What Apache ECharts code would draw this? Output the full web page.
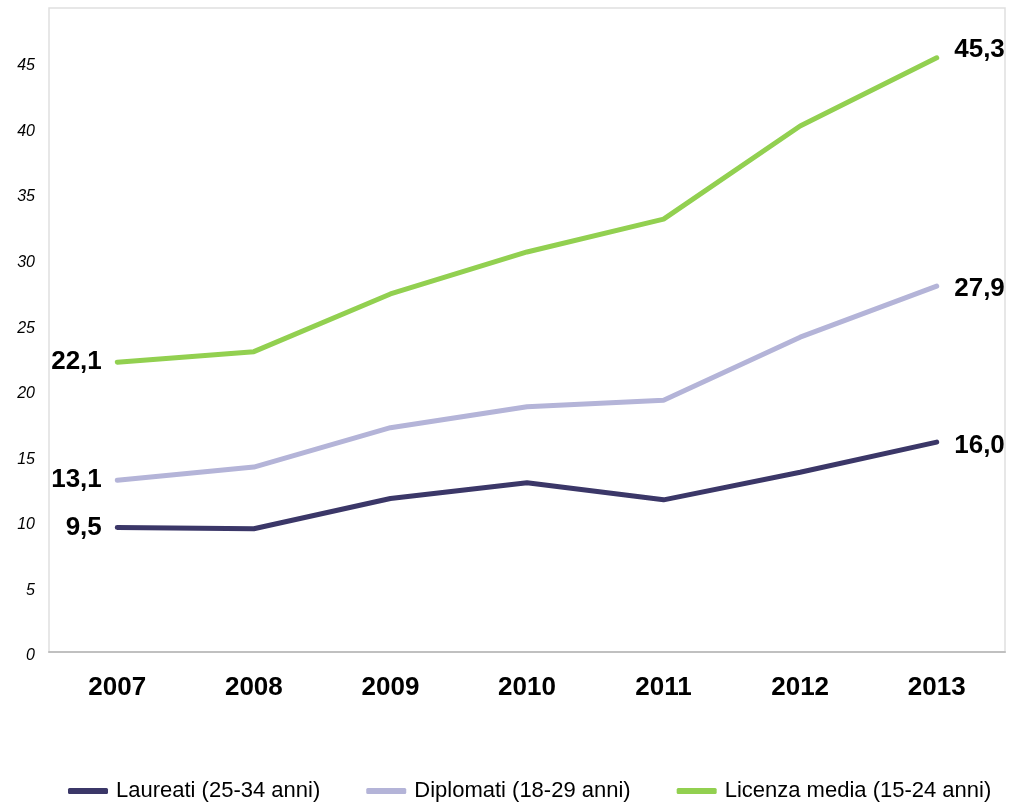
<!DOCTYPE html>
<html>
<head>
<meta charset="utf-8">
<script src="https://cdn.jsdelivr.net/npm/echarts@6/dist/echarts.min.js"></script>
<style>
  html, body { margin: 0; padding: 0; background: #fff; }
  #chart { width: 1014px; height: 806px; }
</style>
</head>
<body>
<div id="chart"></div>
<script>
var years = ['2007', '2008', '2009', '2010', '2011', '2012', '2013']
var laureati = [9.5, 9.4, 11.7, 12.9, 11.6, 13.7, 16.0]
var diplomati = [13.1, 14.1, 17.1, 18.7, 19.2, 24.0, 27.9]
var licenza = [22.1, 22.9, 27.3, 30.5, 33.0, 40.1, 45.3]
var names = ['Laureati (25-34 anni)', 'Diplomati (18-29 anni)', 'Licenza media (15-24 anni)']
var colors = ['#3b3768', '#b4b4d8', '#92d050']

var font = 'Liberation Sans, Arial, sans-serif'

// etichette solo sul primo e ultimo punto
var endLabels = function (arr, lastOffset) {
  return arr.map(function (v, i) {
    if (i === 0) {
      return { value: v, label: { show: true, position: 'left', distance: 15 } }
    }
    if (i === arr.length - 1) {
      return { value: v, label: { show: true, position: 'right', distance: 17, offset: lastOffset } }
    }
    return v
  })
}

var mkSeries = function (name, arr, color, lastOffset) {
  return {
    name: name,
    type: 'line',
    data: endLabels(arr, lastOffset),
    symbol: 'circle',
    symbolSize: 1,
    showSymbol: true,
    lineStyle: { color: color, width: 5, cap: 'round' },
    itemStyle: { color: color },
    label: {
      show: false,
      color: '#000',
      fontFamily: font,
      fontWeight: 'bold',
      fontSize: 26,
      formatter: function (p) { return p.value.toFixed(1).replace('.', ',') }
    },
    emphasis: { disabled: true }
  }
}

var Chart = echarts.init(document.getElementById('chart'))
var option = {
  animation: false,
  color: colors,
  legend: {
    data: names,
    top: 775,
    left: 63,
    itemGap: 46,
    itemWidth: 40,
    itemHeight: 6,
    icon: 'roundRect',
    textStyle: { fontFamily: font, fontSize: 22, color: '#000', padding: [0, 0, 0, 3] }
  },
  grid: {
    left: 49,
    right: 9,
    top: 8,
    bottom: 154,
    show: true,
    borderColor: '#e0e0e0',
    borderWidth: 1.5
  },
  xAxis: {
    type: 'category',
    data: years,
    boundaryGap: true,
    axisLine: { lineStyle: { color: '#c0c0c0', width: 2 } },
    axisTick: { show: false },
    axisLabel: {
      margin: 23,
      color: '#000',
      fontFamily: font,
      fontWeight: 'bold',
      fontSize: 26
    }
  },
  yAxis: {
    type: 'value',
    min: 0,
    max: 49.1,
    interval: 5,
    splitLine: { show: false },
    axisLine: { show: false },
    axisTick: { show: false },
    axisLabel: {
      showMaxLabel: false,
      margin: 14,
      verticalAlign: 'top',
      lineHeight: 8,
      color: '#000',
      fontFamily: font,
      fontStyle: 'italic',
      fontSize: 16
    }
  },
  series: [
    mkSeries(names[0], laureati, colors[0], [0, 4]),
    mkSeries(names[1], diplomati, colors[1], [0, 3]),
    mkSeries(names[2], licenza, colors[2], [0, -8])
  ]
}
Chart.setOption(option)
</script>
</body>
</html>
